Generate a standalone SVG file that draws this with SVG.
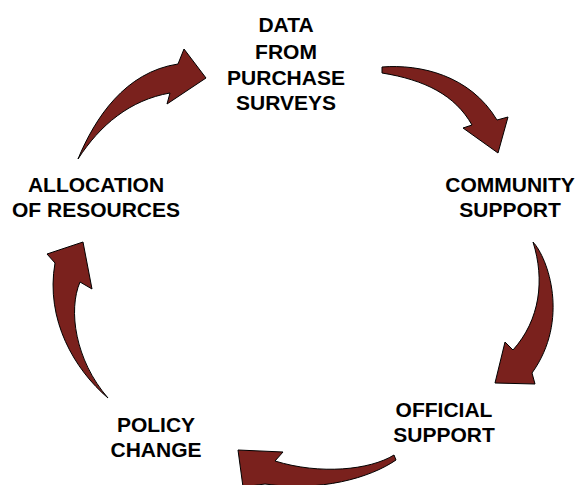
<svg xmlns="http://www.w3.org/2000/svg" width="577" height="485" viewBox="0 0 577 485">
<style>
.arrow{fill:#7a211d;stroke:#000;stroke-width:1;stroke-linejoin:miter}
.lbl{font-family:"Liberation Sans",Arial,sans-serif;font-weight:bold;font-size:21px;fill:#000;text-anchor:middle}
</style>
<rect width="577" height="485" fill="#fff"/>
<g id="connectors">
<path class="arrow" d="M 78,159 C 95,118 125,72 178,64 L 184,49 L 206,78 L 167,104 L 170,93 C 130,100 100,125 78,159 Z"/>
<path class="arrow" d="M 382,67 C 420,64 470,75 497,120 L 508,117 L 498,153 L 463,128 L 472,125 C 455,95 425,80 382,73 Z"/>
<path class="arrow" d="M 533,242 C 548,258 570,320 532,373 L 535,384 L 495,383 L 505,342 L 513,350 C 540,320 545,280 533,242 Z"/>
<path class="arrow" d="M 394,455 C 370,470 320,475 275,461 L 283,452 L 238,450 L 243,487 L 265,484 C 320,492 370,478 396,460 Z"/>
<path class="arrow" d="M 108,398 C 75,370 45,320 55,263 L 47,254 L 83,242 L 92,289 L 80,282 C 68,310 75,360 108,398 Z"/>
</g>
<g id="data">
<text class="lbl" x="286" y="32">DATA</text>
<text class="lbl" x="286" y="59">FROM</text>
<text class="lbl" x="286" y="85">PURCHASE</text>
<text class="lbl" x="286" y="110">SURVEYS</text>
</g>
<g id="community">
<text class="lbl" x="510" y="192">COMMUNITY</text>
<text class="lbl" x="510" y="217">SUPPORT</text>
</g>
<g id="official">
<text class="lbl" x="444" y="417">OFFICIAL</text>
<text class="lbl" x="444" y="442">SUPPORT</text>
</g>
<g id="policy">
<text class="lbl" x="156" y="432">POLICY</text>
<text class="lbl" x="156" y="457">CHANGE</text>
</g>
<g id="allocation">
<text class="lbl" x="96" y="192">ALLOCATION</text>
<text class="lbl" x="96" y="217">OF RESOURCES</text>
</g>
</svg>
